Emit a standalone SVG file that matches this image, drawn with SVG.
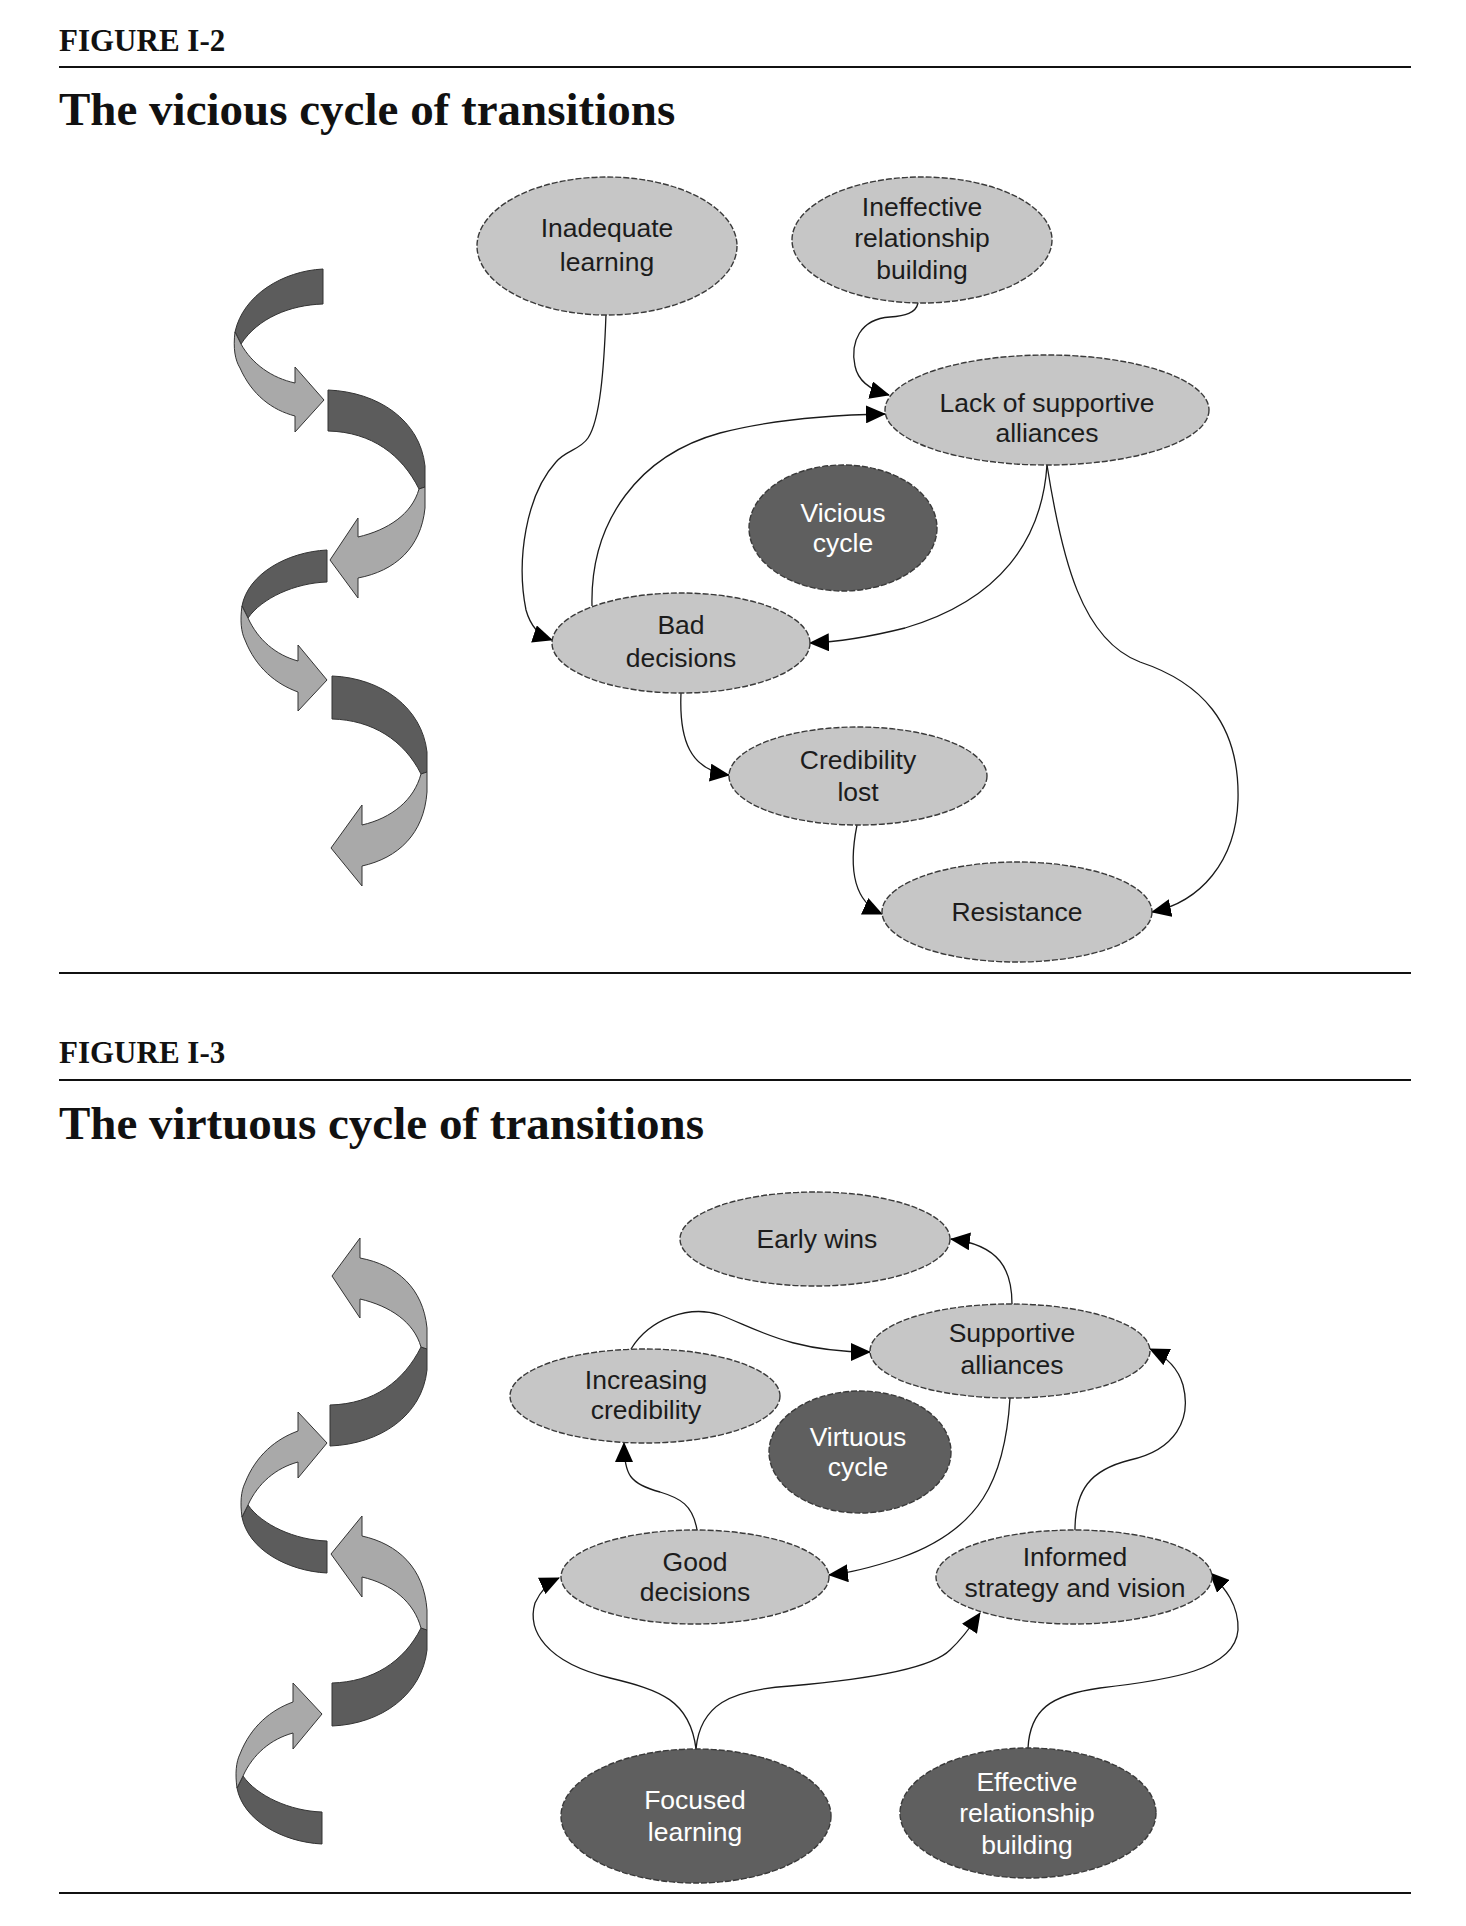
<svg xmlns="http://www.w3.org/2000/svg" width="1466" height="1926" viewBox="0 0 1466 1926">
<defs>
<style>
.hdr{font-family:"Liberation Serif","Times New Roman",serif;font-weight:bold;fill:#111;}
.fig{font-size:31px;}
.ttl{font-size:47px;}
.rule{stroke:#111;stroke-width:2;}
.nl{fill:#c6c6c6;stroke:#3a3a3a;stroke-width:1.4;stroke-dasharray:6 2;}
.nd{fill:#5f5f5f;stroke:#3a3a3a;stroke-width:1.4;stroke-dasharray:6 2;}
.tl{font-family:"Liberation Sans",Arial,sans-serif;font-size:26.5px;fill:#1c1c1c;text-anchor:middle;}
.td{font-family:"Liberation Sans",Arial,sans-serif;font-size:26.5px;fill:#ffffff;text-anchor:middle;}
.edge{fill:none;stroke:#1a1a1a;stroke-width:1.3;marker-end:url(#ah);}
.rd{fill:#5c5c5c;stroke:#333;stroke-width:1;}
.rl{fill:#a9a9a9;stroke:#333;stroke-width:1;}
</style>
<marker id="ah" viewBox="0 0 20 18" refX="19" refY="9" markerWidth="20" markerHeight="18" markerUnits="userSpaceOnUse" orient="auto">
<path d="M0,0 L20,9 L0,18 Z" fill="#000"/>
</marker>
</defs>
<rect width="1466" height="1926" fill="#ffffff"/>

<!-- FIGURE I-2 header -->
<text class="hdr fig" x="59" y="51">FIGURE I-2</text>
<line class="rule" x1="59" y1="67" x2="1411" y2="67"/>
<text class="hdr ttl" x="59" y="125">The vicious cycle of transitions</text>
<line class="rule" x1="59" y1="973" x2="1411" y2="973"/>

<!-- FIGURE I-2 ribbon decoration -->
<g id="ribbon1">
<path class="rd" d="M323,269 C283,271 243,295 235,332 L241,344 C258,318 290,305 323,304 Z"/>
<path class="rl" d="M235,332 C233,348 235,360 240,368 C252,395 272,410 295,416 L295,432 L324,400 L295,367 L295,383 C272,378 252,364 241,344 Z"/>
<path class="rd" d="M328,390 C378,392 420,420 425,466 L425,487 L419,489 C402,455 372,432 328,431 Z"/>
<path class="rl" d="M419,489 L425,487 L425,508 C421,548 395,571 358,578 L358,598 L330,560 L358,518 L358,537 C388,530 412,514 419,489 Z"/>
<path class="rd" d="M327,550 C287,552 248,574 242,606 L248,618 C262,598 295,583 327,582 Z"/>
<path class="rl" d="M242,606 C240,620 241,632 245,640 C256,668 276,684 298,692 L298,711 L327,680 L298,645 L298,661 C276,655 258,640 248,618 Z"/>
<path class="rd" d="M332,676 C382,678 422,708 427,752 L427,772 L421,774 C404,740 372,720 332,719 Z"/>
<path class="rl" d="M421,774 L427,772 L427,792 C424,834 398,858 362,866 L362,886 L331,848 L362,805 L362,825 C392,818 414,800 421,774 Z"/>
</g>

<!-- FIGURE I-2 connectors -->
<g id="connectors1">
<path class="edge" d="M606,314 C604,370 600,420 588,438 C580,450 566,450 556,462 C526,495 516,560 526,610 C531,628 540,636 552,640"/>
<path class="edge" d="M918,303 C916,313 905,316 890,317 C860,319 850,342 855,366 C858,381 870,390 889,395"/>
<path class="edge" d="M592,606 C590,520 640,455 720,433 C770,420 830,415 885,414"/>
<path class="edge" d="M1047,465 C1042,540 1000,600 905,628 C865,638 838,642 810,643"/>
<path class="edge" d="M1047,465 C1062,560 1082,640 1140,662 C1200,682 1240,722 1238,800 C1236,862 1200,902 1152,912"/>
<path class="edge" d="M681,693 C679,740 690,770 729,775"/>
<path class="edge" d="M857,825 C848,870 855,902 882,914"/>
</g>

<!-- FIGURE I-2 nodes -->
<g id="n-inadequate-learning">
<ellipse class="nl" cx="607" cy="246" rx="130" ry="69"/>
<text class="tl" x="607" y="237">Inadequate</text>
<text class="tl" x="607" y="271">learning</text>
</g>
<g id="n-ineffective-relationship">
<ellipse class="nl" cx="922" cy="240" rx="130" ry="63"/>
<text class="tl" x="922" y="216">Ineffective</text>
<text class="tl" x="922" y="247">relationship</text>
<text class="tl" x="922" y="279">building</text>
</g>
<g id="n-lack-alliances">
<ellipse class="nl" cx="1047" cy="410" rx="162" ry="55"/>
<text class="tl" x="1047" y="412">Lack of supportive</text>
<text class="tl" x="1047" y="442">alliances</text>
</g>
<g id="n-vicious-cycle">
<ellipse class="nd" cx="843" cy="528" rx="94" ry="63"/>
<text class="td" x="843" y="522">Vicious</text>
<text class="td" x="843" y="552">cycle</text>
</g>
<g id="n-bad-decisions">
<ellipse class="nl" cx="681" cy="643" rx="129" ry="50"/>
<text class="tl" x="681" y="634">Bad</text>
<text class="tl" x="681" y="667">decisions</text>
</g>
<g id="n-credibility-lost">
<ellipse class="nl" cx="858" cy="776" rx="129" ry="49"/>
<text class="tl" x="858" y="769">Credibility</text>
<text class="tl" x="858" y="801">lost</text>
</g>
<g id="n-resistance">
<ellipse class="nl" cx="1017" cy="912" rx="135" ry="50"/>
<text class="tl" x="1017" y="921">Resistance</text>
</g>

<!-- FIGURE I-3 header -->
<text class="hdr fig" x="59" y="1063">FIGURE I-3</text>
<line class="rule" x1="59" y1="1080" x2="1411" y2="1080"/>
<text class="hdr ttl" x="59" y="1139">The virtuous cycle of transitions</text>
<line class="rule" x1="59" y1="1893" x2="1411" y2="1893"/>

<!-- FIGURE I-3 ribbon decoration -->
<g id="ribbon2">
<g transform="matrix(1 0 0 -1 2 1836)">
<path class="rd" d="M328,390 C378,392 420,420 425,466 L425,487 L419,489 C402,455 372,432 328,431 Z"/>
<path class="rl" d="M419,489 L425,487 L425,508 C421,548 395,571 358,578 L358,598 L330,560 L358,518 L358,537 C388,530 412,514 419,489 Z"/>
</g>
<g transform="matrix(1 0 0 -1 0 2123)">
<path class="rd" d="M327,550 C287,552 248,574 242,606 L248,618 C262,598 295,583 327,582 Z"/>
<path class="rl" d="M242,606 C240,620 241,632 245,640 C256,668 276,684 298,692 L298,711 L327,680 L298,645 L298,661 C276,655 258,640 248,618 Z"/>
</g>
<g transform="matrix(1 0 0 -1 0 2402)">
<path class="rd" d="M332,676 C382,678 422,708 427,752 L427,772 L421,774 C404,740 372,720 332,719 Z"/>
<path class="rl" d="M421,774 L427,772 L427,792 C424,834 398,858 362,866 L362,886 L331,848 L362,805 L362,825 C392,818 414,800 421,774 Z"/>
</g>
<g transform="matrix(1 0 0 -1 -5 2394)">
<path class="rd" d="M327,550 C287,552 248,574 242,606 L248,618 C262,598 295,583 327,582 Z"/>
<path class="rl" d="M242,606 C240,620 241,632 245,640 C256,668 276,684 298,692 L298,711 L327,680 L298,645 L298,661 C276,655 258,640 248,618 Z"/>
</g>
</g>

<!-- FIGURE I-3 connectors -->
<g id="connectors2">
<path class="edge" d="M1012,1304 C1012,1270 1000,1245 951,1239"/>
<path class="edge" d="M631,1349 C650,1318 690,1305 720,1315 C755,1328 790,1352 870,1352"/>
<path class="edge" d="M1010,1398 C1005,1480 980,1530 900,1558 C870,1568 850,1573 829,1575"/>
<path class="edge" d="M697,1530 C693,1505 680,1498 660,1492 C630,1484 624,1475 624,1443"/>
<path class="edge" d="M1075,1530 C1075,1490 1090,1470 1130,1460 C1175,1450 1192,1420 1183,1385 C1178,1368 1165,1356 1150,1349"/>
<path class="edge" d="M696,1749 C690,1700 660,1690 610,1678 C545,1662 527,1630 535,1603 C540,1592 548,1583 559,1578"/>
<path class="edge" d="M696,1749 C700,1705 730,1690 790,1686 C860,1680 930,1670 950,1650 C963,1638 972,1625 980,1613"/>
<path class="edge" d="M1028,1748 C1030,1710 1050,1695 1100,1688 C1170,1680 1235,1670 1238,1630 C1239,1605 1225,1588 1210,1573"/>
</g>

<!-- FIGURE I-3 nodes -->
<g id="n-early-wins">
<ellipse class="nl" cx="815" cy="1239" rx="135" ry="47"/>
<text class="tl" x="817" y="1248">Early wins</text>
</g>
<g id="n-supportive-alliances">
<ellipse class="nl" cx="1010" cy="1351" rx="140" ry="47"/>
<text class="tl" x="1012" y="1342">Supportive</text>
<text class="tl" x="1012" y="1374">alliances</text>
</g>
<g id="n-increasing-credibility">
<ellipse class="nl" cx="645" cy="1396" rx="135" ry="47"/>
<text class="tl" x="646" y="1389">Increasing</text>
<text class="tl" x="646" y="1419">credibility</text>
</g>
<g id="n-virtuous-cycle">
<ellipse class="nd" cx="860" cy="1452" rx="91" ry="61"/>
<text class="td" x="858" y="1446">Virtuous</text>
<text class="td" x="858" y="1476">cycle</text>
</g>
<g id="n-good-decisions">
<ellipse class="nl" cx="695" cy="1577" rx="134" ry="47"/>
<text class="tl" x="695" y="1571">Good</text>
<text class="tl" x="695" y="1601">decisions</text>
</g>
<g id="n-informed-strategy">
<ellipse class="nl" cx="1074" cy="1577" rx="138" ry="47"/>
<text class="tl" x="1075" y="1566">Informed</text>
<text class="tl" x="1075" y="1597">strategy and vision</text>
</g>
<g id="n-focused-learning">
<ellipse class="nd" cx="696" cy="1816" rx="135" ry="67"/>
<text class="td" x="695" y="1809">Focused</text>
<text class="td" x="695" y="1841">learning</text>
</g>
<g id="n-effective-relationship">
<ellipse class="nd" cx="1028" cy="1813" rx="128" ry="65"/>
<text class="td" x="1027" y="1791">Effective</text>
<text class="td" x="1027" y="1822">relationship</text>
<text class="td" x="1027" y="1854">building</text>
</g>
</svg>
